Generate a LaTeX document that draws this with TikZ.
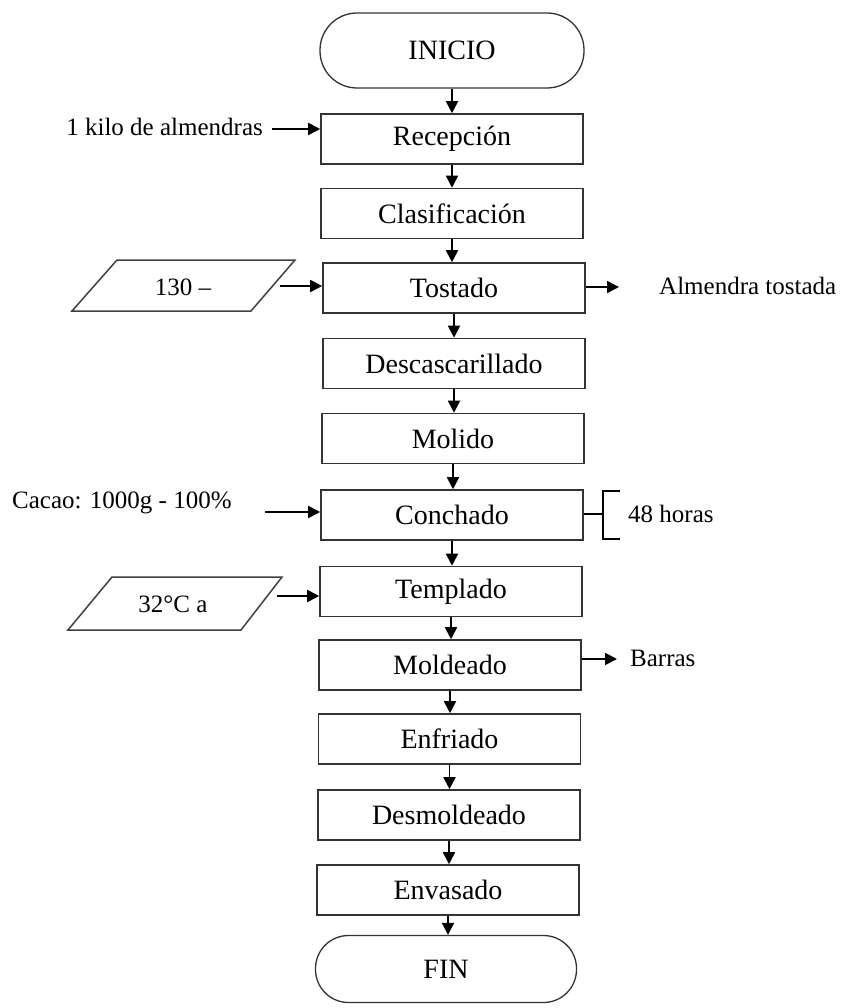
\documentclass[tikz,border=0pt]{standalone}
\usepackage{fontspec}
\setmainfont{Liberation Serif}
\usetikzlibrary{arrows.meta}
\begin{document}
\begin{tikzpicture}[x=1pt,y=-1pt,
  proc/.style={draw=black!80, line width=1.6pt, minimum width=262pt, minimum height=50pt, inner sep=0pt, font=\fontsize{28}{30}\selectfont},
  term/.style={draw=black!80, line width=1.3pt, rounded corners=37pt, minimum width=264pt, minimum height=75pt, inner sep=0pt, font=\fontsize{28}{30}\selectfont},
  lbl/.style={inner sep=0pt, font=\fontsize{25}{28}\selectfont},
  arr/.style={draw=black, line width=1.8pt, -{Triangle[length=12pt,width=12pt]}},
  ln/.style={draw=black, line width=1.5pt},
  pshape/.style={draw=black!75, line width=1.5pt, line join=miter}]
\useasboundingbox (0,0) rectangle (847,1008);

\node[term] (ini) at (452,50.5) {INICIO};
\node[proc] (rec) at (452,139) {Recepción};
\node[proc] (cla) at (452,213.5) {Clasificación};
\node[proc] (tos) at (454,288) {Tostado};
\node[proc] (des) at (454,363.5) {Descascarillado};
\node[proc] (mol) at (453,438.5) {Molido};
\node[proc] (con) at (452,515) {Conchado};
\node[proc] (tem) at (451,591.5) {Templado};
\node[proc] (mde) at (450,665) {Moldeado};
\node[proc] (enf) at (449.5,739) {Enfriado};
\node[proc] (dmo) at (449,815) {Desmoldeado};
\node[proc] (env) at (448,890) {Envasado};
\node[term, minimum width=261pt, minimum height=67pt, rounded corners=33pt] (fin) at (446,969) {FIN};

\draw[arr] (ini.south) -- (ini.south |- rec.north);
\draw[arr] (rec.south) -- (rec.south |- cla.north);
\draw[arr] (cla.south) -- (cla.south |- tos.north);
\draw[arr] (tos.south) -- (tos.south |- des.north);
\draw[arr] (des.south) -- (des.south |- mol.north);
\draw[arr] (mol.south) -- (mol.south |- con.north);
\draw[arr] (con.south) -- (con.south |- tem.north);
\draw[arr] (tem.south) -- (tem.south |- mde.north);
\draw[arr] (mde.south) -- (mde.south |- enf.north);
\draw[arr] (enf.south) -- (enf.south |- dmo.north);
\draw[arr] (dmo.south) -- (dmo.south |- env.north);
\draw[arr] (env.south) -- (env.south |- fin.north);

% input: almendras
\node[lbl, anchor=east] (alm) at (263,127) {1 kilo de almendras};
\coordinate (almA) at (272,129);
\draw[arr] (almA) -- (almA -| rec.west);

% parallelogram 1
\draw[pshape] (72,311) -- (117,260) -- (295,260) -- (251,311) -- cycle;
\node[lbl] (p1) at (183,287) {130 –};
\coordinate (p1e) at (280,286);
\draw[arr] (p1e) -- (p1e -| tos.west);

% output almendra tostada
\coordinate (tosO) at (619,287);
\draw[arr] (tos.east |- tosO) -- (tosO);
\node[lbl, anchor=west] (atos) at (659,286) {Almendra tostada};

% cacao
\node[lbl, anchor=west] (cac) at (12,503) {Cacao: 1000g - 100\%};
\coordinate (cacA) at (265,512);
\draw[arr] (cacA) -- (cacA -| con.west);

% bracket 48 horas
\coordinate (brk) at (603,514);
\draw[ln] (con.east |- brk) -- (brk);
\draw[ln] (620,491) -- (603,491) -- (603,539) -- (620,539);
\node[lbl, anchor=west] (hrs) at (628,514) {48 horas};

% parallelogram 2
\draw[pshape] (68,630) -- (112,577) -- (282,577) -- (241,630) -- cycle;
\node[lbl] (p2) at (173,604) {32°C a};
\coordinate (p2e) at (277,596);
\draw[arr] (p2e) -- (p2e -| tem.west);

% barras
\coordinate (barO) at (617,659);
\draw[arr] (mde.east |- barO) -- (barO);
\node[lbl, anchor=west] (bar) at (630,658) {Barras};
\end{tikzpicture}
\end{document}
